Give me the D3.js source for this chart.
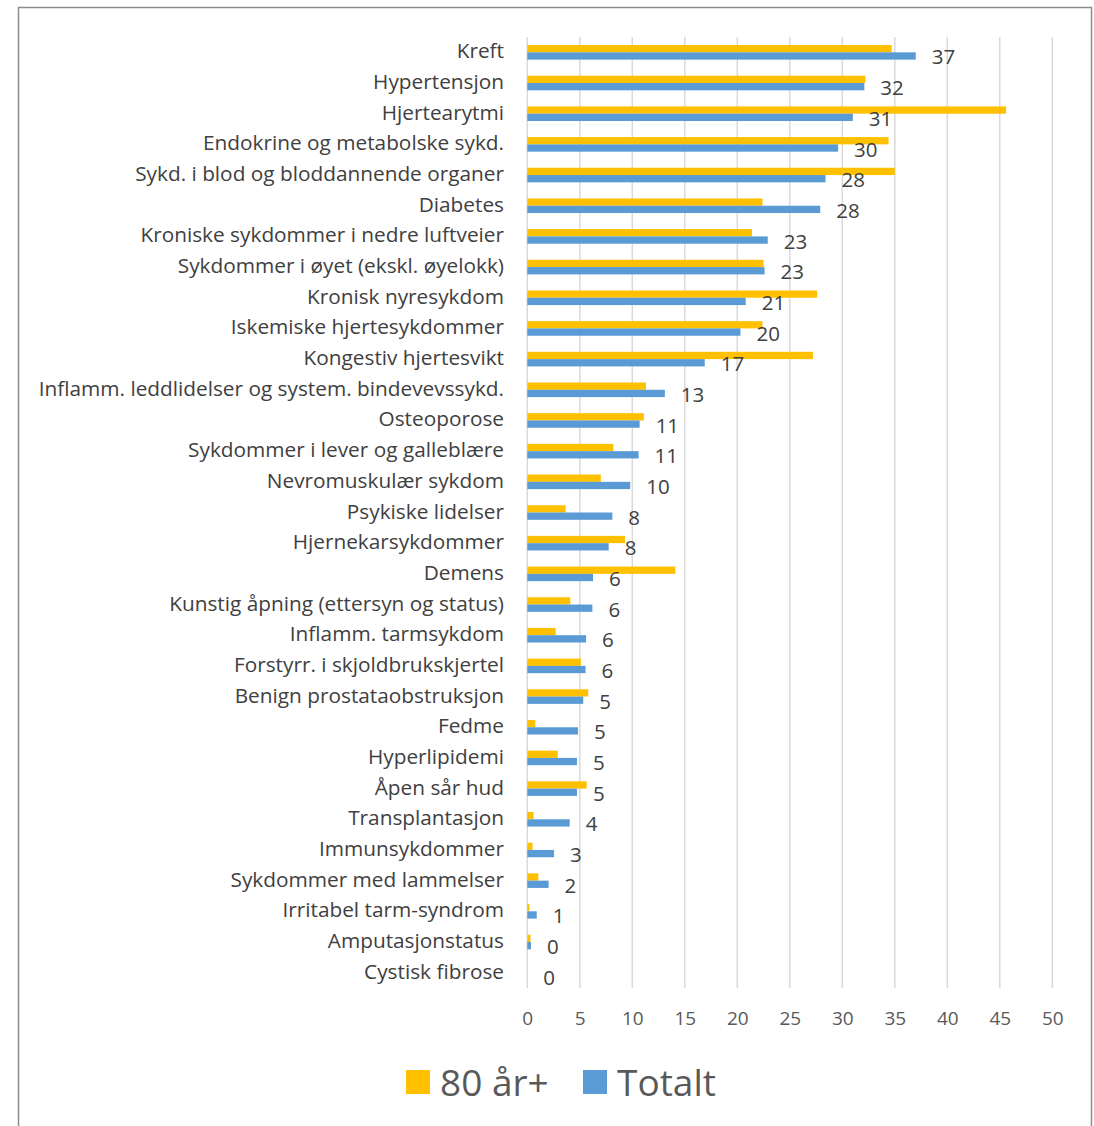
<!DOCTYPE html>
<html>
<head>
<meta charset="utf-8">
<script src="https://cdn.jsdelivr.net/npm/d3@7"></script>
<style>
  body { margin: 0; background: #fff; }
  text { font-family: "Open Sans", sans-serif; }
</style>
</head>
<body>
<svg id="chart" width="1094" height="1126"></svg>
<script>
// categories, top to bottom
const categories = [
    "Kreft", "Hypertensjon", "Hjertearytmi", "Endokrine og metabolske sykd.",
    "Sykd. i blod og bloddannende organer", "Diabetes", "Kroniske sykdommer i nedre luftveier",
    "Sykdommer i øyet (ekskl. øyelokk)", "Kronisk nyresykdom", "Iskemiske hjertesykdommer",
    "Kongestiv hjertesvikt", "Inflamm. leddlidelser og system. bindevevssykd.", "Osteoporose",
    "Sykdommer i lever og galleblære", "Nevromuskulær sykdom", "Psykiske lidelser",
    "Hjernekarsykdommer", "Demens", "Kunstig åpning (ettersyn og status)", "Inflamm. tarmsykdom",
    "Forstyrr. i skjoldbrukskjertel", "Benign prostataobstruksjon", "Fedme", "Hyperlipidemi",
    "Åpen sår hud", "Transplantasjon", "Immunsykdommer", "Sykdommer med lammelser",
    "Irritabel tarm-syndrom", "Amputasjonstatus", "Cystisk fibrose"
];
const series = ["80 år+", "Totalt"];
const over80 = [34.7, 32.2, 45.6, 34.4, 35.0, 22.4, 21.4, 22.5, 27.6, 22.4,
    27.2, 11.3, 11.1, 8.2, 7.0, 3.65, 9.3, 14.1, 4.1, 2.7,
    5.1, 5.8, 0.77, 2.9, 5.65, 0.6, 0.5, 1.05, 0.2, 0.3, 0];
const totalt = [37.0, 32.1, 31.0, 29.6, 28.4, 27.9, 22.9, 22.6, 20.8, 20.3,
    16.9, 13.1, 10.7, 10.6, 9.8, 8.1, 7.75, 6.26, 6.2, 5.6,
    5.55, 5.33, 4.83, 4.73, 4.73, 4.04, 2.55, 2.03, 0.9, 0.35, 0];
const xTicks = [0, 5, 10, 15, 20, 25, 30, 35, 40, 45, 50];
const colors = ["#FFC000", "#5B9BD5"];

const svg = d3.select("#chart");

// outer frame
svg.append("rect")
    .attr("x", 18.5).attr("y", 7.5)
    .attr("width", 1073).attr("height", 1140)
    .attr("fill", "none").attr("stroke", "#8c8c8c").attr("stroke-width", 1.5);

const x = d3.scaleLinear().domain([0, 50]).range([527.3, 1052.3]);
const y = d3.scaleBand().domain(categories).range([37, 988])
    .paddingInner(0.524).paddingOuter(0.262);
const ySub = d3.scaleBand().domain(series).range([0, y.bandwidth()]);

// gridlines
svg.append("g").selectAll("line").data(xTicks).join("line")
    .attr("x1", d => x(d)).attr("x2", d => x(d))
    .attr("y1", 37).attr("y2", 988)
    .attr("stroke", "#d9d9d9").attr("stroke-width", 1.5);

// tick labels
const xAxis = svg.append("g")
    .attr("transform", "translate(0,1011)")
    .call(d3.axisBottom(x).tickValues(xTicks).tickSize(0).tickPadding(0));
xAxis.select(".domain").remove();
xAxis.selectAll("text")
    .attr("font-family", "Open Sans, sans-serif")
    .attr("font-size", 19).attr("fill", "#595959");

// category labels
svg.append("g").selectAll("text").data(categories).join("text")
    .attr("x", 504)
    .attr("y", d => y(d) + y.bandwidth() / 2 - 2)
    .attr("text-anchor", "end")
    .attr("dominant-baseline", "central")
    .attr("font-size", 20.8).attr("fill", "#404040")
    .text(d => d);

// bars
const rows = categories.map((c, i) => ({c, vals: [over80[i], totalt[i]]}));
const groups = svg.append("g").selectAll("g").data(rows).join("g")
    .attr("transform", d => `translate(0,${y(d.c)})`);
groups.selectAll("rect")
    .data(d => d.vals.map((v, j) => ({s: series[j], v, j})))
    .join("rect")
    .attr("x", x(0))
    .attr("y", d => ySub(d.s))
    .attr("width", d => x(d.v) - x(0))
    .attr("height", ySub.bandwidth())
    .attr("fill", d => colors[d.j]);

// data labels (Totalt)
groups.append("text")
    .attr("x", d => x(d.vals[1]) + 16)
    .attr("y", d => ySub("Totalt") + ySub.bandwidth() / 2 + 0.5)
    .attr("dominant-baseline", "central")
    .attr("font-size", 20.5).attr("fill", "#404040")
    .text(d => Math.round(d.vals[1]));

// legend
const legendX = [406, 583];
const legend = svg.append("g").selectAll("g").data(series).join("g")
    .attr("transform", (d, i) => `translate(${legendX[i]},1070)`);
legend.append("rect").attr("width", 24).attr("height", 24)
    .attr("fill", (d, i) => colors[i]);
legend.append("text")
    .attr("x", 34).attr("y", 11)
    .attr("dominant-baseline", "central")
    .attr("font-size", 37).attr("fill", "#595959")
    .text(d => d);
</script>
</body>
</html>
